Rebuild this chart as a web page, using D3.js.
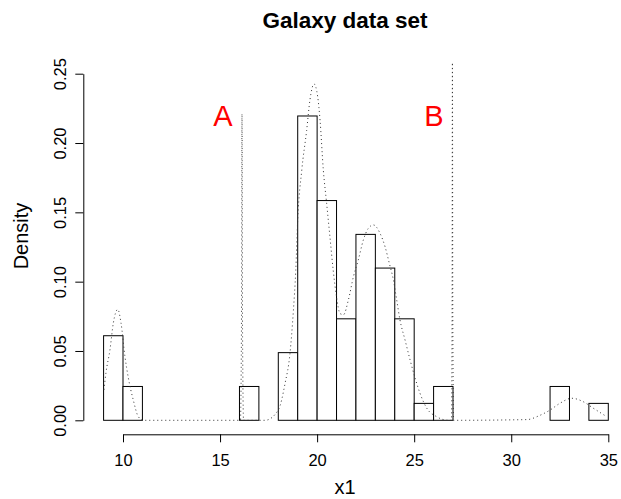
<!DOCTYPE html>
<html>
<head>
<meta charset="utf-8">
<script src="https://cdn.jsdelivr.net/npm/d3@7"></script>
<style>
  body { margin: 0; background: #fff; }
  svg { font-family: "Liberation Sans", Arial, Helvetica, sans-serif; }
</style>
</head>
<body>
<div id="chart"></div>
<script>
// histogram bins (left edge, width 1) and their densities
const binStart = [9, 10, 11, 12, 13, 14, 15, 16, 17, 18, 19, 20, 21, 22, 23, 24, 25, 26, 27, 28, 29, 30, 31, 32, 33, 34];
const density = [0.0610, 0.0244, 0, 0, 0, 0, 0, 0.0244, 0, 0.0488, 0.2195, 0.1585, 0.0732, 0.1341, 0.1098, 0.0732,
                 0.0122, 0.0244, 0, 0, 0, 0, 0, 0.0244, 0, 0.0122];

// dotted density curve
const curveX = [9.02, 9.12, 9.33, 9.50, 9.73, 9.90, 10.10, 10.27, 10.53, 10.79, 11.05,
                16.05, 16.10, 16.13, 16.16, 16.21,
                17.32, 18.00, 18.35, 18.60, 18.78, 18.90, 19.00, 19.21, 19.46, 19.63, 19.84, 20.03, 20.15,
                20.32, 20.49, 20.66, 20.83, 21.00, 21.18, 21.36, 21.61, 21.87, 22.12, 22.38, 22.64, 22.90,
                23.24, 23.50, 23.72, 23.93, 24.10, 24.27, 24.53, 24.79, 25.05, 25.30, 25.65, 26.16, 26.76,
                26.92, 26.95, 26.97, 26.99, 27.03,
                30.80, 31.48, 32.00, 32.51, 33.12, 33.71, 34.23, 34.92];
const curveY = [0.022, 0.034, 0.051, 0.070, 0.080, 0.070, 0.046, 0.031, 0.0146, 0.0026, 0,
                0, 0.06, 0.221, 0.06, 0,
                0, 0.0074, 0.0267, 0.048, 0.0796, 0.108, 0.1445, 0.1805, 0.209, 0.231, 0.2426, 0.2334, 0.2166,
                0.1805, 0.1565, 0.1324, 0.108, 0.089, 0.077, 0.0762, 0.0868, 0.1036, 0.1156, 0.130, 0.1385, 0.1409,
                0.1349, 0.1252, 0.1132, 0.1012, 0.0868, 0.0723, 0.0579, 0.0435, 0.0303, 0.0195, 0.0087, 0.0026, 0,
                0, 0.07, 0.258, 0.07, 0,
                0.0005, 0.0036, 0.0074, 0.0123, 0.0159, 0.0134, 0.0087, 0.0026];

const xTicks = [10, 15, 20, 25, 30, 35];
const yTicks = [0, 0.05, 0.10, 0.15, 0.20, 0.25];

// red labels
const labelText = ["A", "B"];
const labelX = [15.15, 26.02];
const labelY = [0.22, 0.22];

const width = 621;
const height = 499;

const x = d3.scaleLinear().domain([10, 35]).range([123, 608.3]);
const y = d3.scaleLinear().domain([0, 0.25]).range([420.3, 73.7]);

const svg = d3.select("#chart")
    .append("svg")
    .attr("width", width)
    .attr("height", height);

// title
svg.append("text")
    .attr("x", 345)
    .attr("y", 28)
    .attr("text-anchor", "middle")
    .style("font-size", "22.5px")
    .style("font-weight", "bold")
    .text("Galaxy data set");

// bars
svg.selectAll(".bar")
    .data(binStart)
    .enter()
    .append("rect")
    .attr("class", "bar")
    .attr("x", d => x(d))
    .attr("y", (d, i) => y(density[i]))
    .attr("width", d => x(d + 1) - x(d))
    .attr("height", (d, i) => y(0) - y(density[i]))
    .attr("fill", "#fff")
    .attr("stroke", "#000")
    .attr("stroke-width", 1);

// density curve
const pts = curveX.map((d, i) => [d, curveY[i]]);
svg.append("path")
    .datum(pts)
    .attr("fill", "none")
    .attr("stroke", "#333")
    .attr("stroke-width", 1)
    .attr("stroke-dasharray", "1,3")
    .attr("d", d3.line().x(d => x(d[0])).y(d => y(d[1])).curve(d3.curveMonotoneX));

// x axis
const xAxis = svg.append("g")
    .attr("transform", `translate(0, 434.3)`)
    .call(d3.axisBottom(x).tickValues(xTicks).tickSize(8).tickPadding(12).tickSizeOuter(0).tickFormat(d3.format("d")));
xAxis.selectAll("text").style("font-size", "16.5px").attr("fill", "#000").style("font-family", "Liberation Sans, Arial, sans-serif");

// y axis
const yAxis = svg.append("g")
    .attr("transform", `translate(83.3, 0)`)
    .call(d3.axisLeft(y).tickValues(yTicks).tickSize(8).tickSizeOuter(0).tickFormat(d3.format(".2f")));
yAxis.selectAll("text")
    .attr("x", null).attr("dy", null)
    .attr("text-anchor", "middle")
    .attr("transform", "translate(-17,0) rotate(-90)")
    .style("font-size", "16.5px")
    .attr("fill", "#000")
    .style("font-family", "Liberation Sans, Arial, sans-serif");

// axis titles
svg.append("text")
    .attr("x", 345)
    .attr("y", 494)
    .attr("text-anchor", "middle")
    .style("font-size", "20px")
    .text("x1");

svg.append("text")
    .attr("transform", "translate(28, 236) rotate(-90)")
    .attr("text-anchor", "middle")
    .style("font-size", "20px")
    .text("Density");

// A / B labels
svg.selectAll(".lab")
    .data(labelText)
    .enter()
    .append("text")
    .attr("class", "lab")
    .attr("x", (d, i) => x(labelX[i]))
    .attr("y", (d, i) => y(labelY[i]))
    .attr("dy", "0.36em")
    .attr("text-anchor", "middle")
    .attr("fill", "#ff0000")
    .style("font-size", "29px")
    .text(d => d);
</script>
</body>
</html>
